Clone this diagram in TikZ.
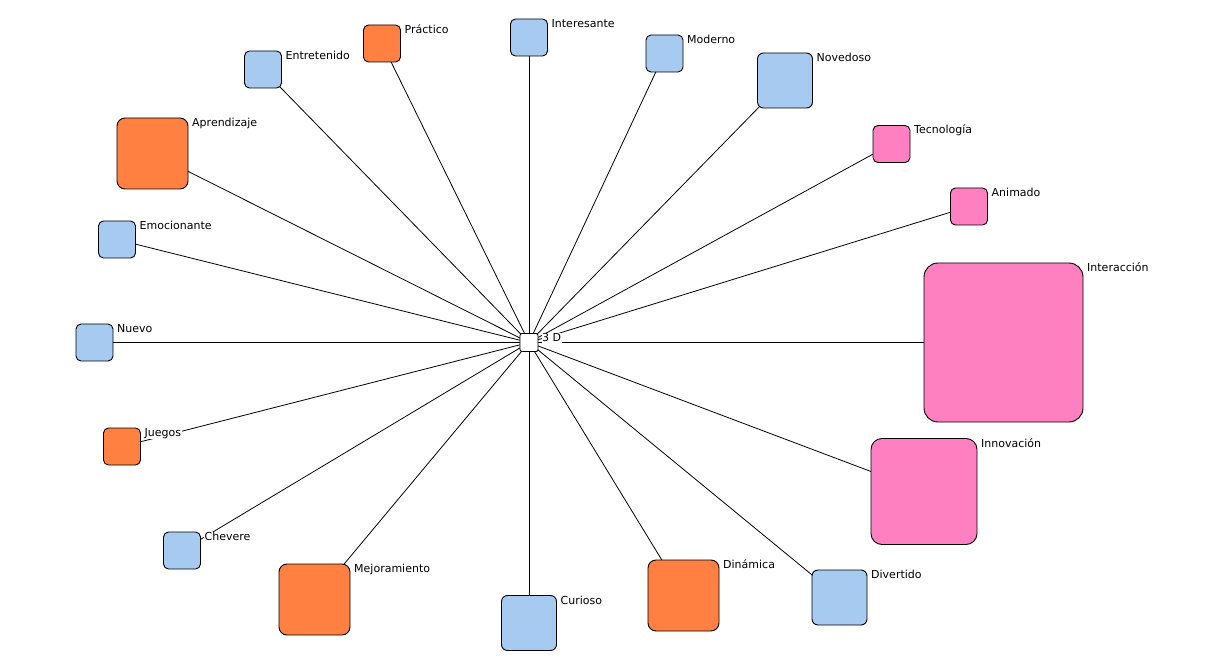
\documentclass[tikz,border=0pt]{standalone}
\usepackage{fontspec}
\setmainfont{DejaVu Sans}
\usetikzlibrary{backgrounds}
\definecolor{cblue}{HTML}{A6CAF0}
\definecolor{corange}{HTML}{FF8040}
\definecolor{cpink}{HTML}{FF80C0}
\tikzset{
  box/.style={draw=black, line width=0.9pt, inner sep=0pt, outer sep=0pt},
  sm/.style={box, minimum size=37pt, rounded corners=5pt},
  md/.style={box, minimum size=55pt, rounded corners=6pt},
  lg/.style={box, minimum size=71pt, rounded corners=8pt},
  lab/.style={anchor=base west, fill=white, inner sep=0.5pt, xshift=3.5pt, yshift=-8.5pt,
    font=\fontsize{11}{13}\selectfont},
  link/.style={draw=black, line width=0.8pt}
}
\begin{document}
\begin{tikzpicture}[x=1pt,y=-1pt]
\useasboundingbox (0,0) rectangle (1224,660);
% center
\node[box, fill=white, minimum size=18pt, rounded corners=2pt] (c) at (529,342.5) {};
% keyword boxes
\node[sm, fill=cblue]   (entretenido) at (263,69.5) {};
\node[sm, fill=corange] (practico)    at (382,43.5) {};
\node[sm, fill=cblue]   (interesante) at (529,37.5) {};
\node[sm, fill=cblue]   (moderno)     at (664.5,53.5) {};
\node[md, fill=cblue]   (novedoso)    at (785,80.5) {};
\node[sm, fill=cpink]   (tecnologia)  at (891.5,144) {};
\node[sm, fill=cpink]   (animado)     at (969,206.5) {};
\node[box, fill=cpink, minimum size=159pt, rounded corners=14pt] (interaccion) at (1003.5,342.5) {};
\node[box, fill=cpink, minimum size=106pt, rounded corners=11pt] (innovacion) at (924,491.5) {};
\node[md, fill=cblue]   (divertido)   at (839.5,597.5) {};
\node[lg, fill=corange] (dinamica)    at (683.5,595.5) {};
\node[md, fill=cblue]   (curioso)     at (529,623) {};
\node[lg, fill=corange] (mejoramiento) at (314.5,599.5) {};
\node[sm, fill=cblue]   (chevere)     at (182,550.5) {};
\node[sm, fill=corange] (juegos)      at (122,446.5) {};
\node[sm, fill=cblue]   (nuevo)       at (94.5,342.5) {};
\node[sm, fill=cblue]   (emocionante) at (117,239.5) {};
\node[lg, fill=corange] (aprendizaje) at (152.5,153.5) {};
% labels
\node[lab] (cL) at (c.north east) {3 D};
\node[lab] (entretenidoL) at (entretenido.north east) {Entretenido};
\node[lab] (practicoL) at (practico.north east) {Práctico};
\node[lab] (interesanteL) at (interesante.north east) {Interesante};
\node[lab] (modernoL) at (moderno.north east) {Moderno};
\node[lab] (novedosoL) at (novedoso.north east) {Novedoso};
\node[lab] (tecnologiaL) at (tecnologia.north east) {Tecnología};
\node[lab] (animadoL) at (animado.north east) {Animado};
\node[lab] (interaccionL) at (interaccion.north east) {Interacción};
\node[lab] (innovacionL) at (innovacion.north east) {Innovación};
\node[lab] (divertidoL) at (divertido.north east) {Divertido};
\node[lab] (dinamicaL) at (dinamica.north east) {Dinámica};
\node[lab] (curiosoL) at (curioso.north east) {Curioso};
\node[lab] (mejoramientoL) at (mejoramiento.north east) {Mejoramiento};
\node[lab] (chevereL) at (chevere.north east) {Chevere};
\node[lab] (juegosL) at (juegos.north east) {Juegos};
\node[lab] (nuevoL) at (nuevo.north east) {Nuevo};
\node[lab] (emocionanteL) at (emocionante.north east) {Emocionante};
\node[lab] (aprendizajeL) at (aprendizaje.north east) {Aprendizaje};
% connectors
\begin{scope}[on background layer]
\foreach \n in {entretenido,practico,interesante,moderno,novedoso,tecnologia,animado,
  interaccion,innovacion,divertido,dinamica,curioso,mejoramiento,chevere,juegos,nuevo,
  emocionante,aprendizaje}
  \draw[link] (c.center) -- (\n.center);
\end{scope}
\end{tikzpicture}
\end{document}
